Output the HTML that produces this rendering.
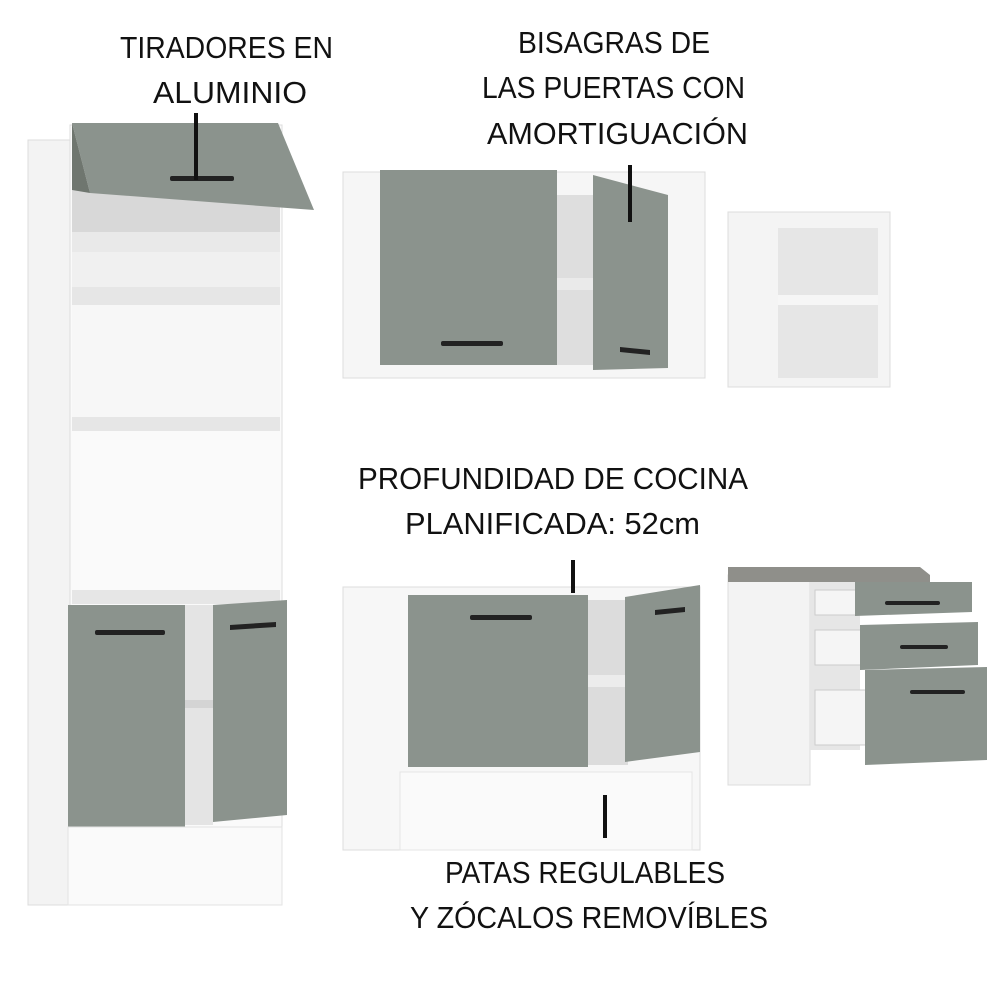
<!DOCTYPE html>
<html><head><meta charset="utf-8"><style>html,body{margin:0;padding:0;background:#fff}svg{display:block}</style></head>
<body>
<svg width="1000" height="1000" viewBox="0 0 1000 1000" xmlns="http://www.w3.org/2000/svg">
<defs>
<linearGradient id="side" x1="0" x2="1"><stop offset="0" stop-color="#f4f4f4"/><stop offset="1" stop-color="#e2e2e2"/></linearGradient>
</defs>
<!-- Tall cabinet -->
<rect x="28" y="140" width="44" height="765" fill="#f3f3f3" stroke="#ddd"/>
<rect x="70" y="125" width="212" height="780" fill="#fafafa" stroke="#ddd"/>
<rect x="72" y="190" width="208" height="45" fill="#d8d8d8"/>
<rect x="72" y="232" width="208" height="20" fill="#e9e9e9"/>
<rect x="72" y="252" width="208" height="35" fill="#f0f0f0"/>
<rect x="72" y="287" width="208" height="18" fill="#e6e6e6"/>
<rect x="72" y="305" width="208" height="112" fill="#f7f7f7"/>
<rect x="72" y="417" width="208" height="14" fill="#e6e6e6"/>
<rect x="72" y="590" width="208" height="14" fill="#e6e6e6"/>
<polygon points="72,123 278,123 314,210 90,193" fill="#8b938d"/>
<polygon points="72,123 90,193 72,190" fill="#6f766f"/>
<rect x="170" y="176" width="64" height="5" rx="2" fill="#222"/>
<rect x="68" y="605" width="117" height="222" fill="#8b938d"/>
<rect x="185" y="605" width="28" height="220" fill="#e4e4e4"/>
<rect x="185" y="700" width="28" height="8" fill="#d4d4d4"/>
<polygon points="213,605 287,600 287,815 213,822" fill="#8b938d"/>
<rect x="95" y="630" width="70" height="5" rx="2" fill="#222"/>
<polygon points="230,625 276,622 276,627 230,630" fill="#222"/>
<rect x="68" y="827" width="214" height="78" fill="#fafafa" stroke="#e3e3e3"/>
<!-- Upper middle cabinet -->
<rect x="343" y="172" width="362" height="206" fill="#f6f6f6" stroke="#ddd"/>
<rect x="557" y="195" width="40" height="170" fill="#dedede"/>
<rect x="557" y="278" width="40" height="12" fill="#eaeaea"/>
<rect x="380" y="170" width="177" height="195" fill="#8b938d"/>
<rect x="441" y="341" width="62" height="5" rx="2" fill="#222"/>
<polygon points="593,175 668,195 668,368 593,370" fill="#8b938d"/>
<polygon points="620,347 650,350 650,355 620,352" fill="#222"/>
<!-- Small open cabinet -->
<rect x="728" y="212" width="162" height="175" fill="#f4f4f4" stroke="#ddd"/>
<rect x="778" y="228" width="100" height="150" fill="#e6e6e6"/>
<rect x="778" y="295" width="100" height="10" fill="#f6f6f6"/>
<!-- Base middle cabinet -->
<rect x="343" y="587" width="357" height="263" fill="#f7f7f7" stroke="#ddd"/>
<rect x="588" y="600" width="40" height="165" fill="#dcdcdc"/>
<rect x="588" y="675" width="40" height="12" fill="#ececec"/>
<rect x="408" y="595" width="180" height="172" fill="#8b938d"/>
<rect x="470" y="615" width="62" height="5" rx="2" fill="#222"/>
<polygon points="625,597 700,585 700,752 625,762" fill="#8b938d"/>
<polygon points="655,610 685,607 685,612 655,615" fill="#222"/>
<rect x="400" y="772" width="292" height="78" fill="#fafafa" stroke="#e5e5e5"/>
<!-- Drawer cabinet -->
<rect x="728" y="575" width="82" height="210" fill="#f3f3f3" stroke="#ddd"/>
<rect x="810" y="580" width="50" height="170" fill="#e6e6e6"/>
<polygon points="728,567 920,567 930,575 930,582 728,582" fill="#8f8f8a"/>
<rect x="815" y="590" width="45" height="25" fill="#f5f5f5" stroke="#ccc"/>
<rect x="815" y="630" width="50" height="35" fill="#f5f5f5" stroke="#ccc"/>
<rect x="815" y="690" width="55" height="55" fill="#f5f5f5" stroke="#ccc"/>
<polygon points="855,582 972,582 972,612 855,616" fill="#8b938d"/>
<polygon points="860,625 978,622 978,665 860,670" fill="#8b938d"/>
<polygon points="865,670 987,667 987,760 865,765" fill="#8b938d"/>
<rect x="885" y="601" width="55" height="4" rx="2" fill="#222"/>
<rect x="900" y="645" width="48" height="4" rx="2" fill="#222"/>
<rect x="910" y="690" width="55" height="4" rx="2" fill="#222"/>
<!-- lines -->
<g stroke="#111" stroke-width="4">
<line x1="196" y1="113" x2="196" y2="180"/>
<line x1="630" y1="165" x2="630" y2="222"/>
<line x1="573" y1="560" x2="573" y2="593"/>
<line x1="605" y1="795" x2="605" y2="838"/>
</g>
<!-- text -->
<g font-family="Liberation Sans, sans-serif" font-size="31" fill="#111" lengthAdjust="spacingAndGlyphs">
<text x="120" y="58" textLength="213" lengthAdjust="spacingAndGlyphs">TIRADORES EN</text>
<text x="153" y="103" textLength="154" lengthAdjust="spacingAndGlyphs">ALUMINIO</text>
<text x="518" y="53" textLength="192" lengthAdjust="spacingAndGlyphs">BISAGRAS DE</text>
<text x="482" y="98" textLength="263" lengthAdjust="spacingAndGlyphs">LAS PUERTAS CON</text>
<text x="487" y="144" textLength="261" lengthAdjust="spacingAndGlyphs">AMORTIGUACIÓN</text>
<text x="358" y="489" textLength="390" lengthAdjust="spacingAndGlyphs">PROFUNDIDAD DE COCINA</text>
<text x="405" y="534" textLength="295" lengthAdjust="spacingAndGlyphs">PLANIFICADA: 52cm</text>
<text x="445" y="883" textLength="280" lengthAdjust="spacingAndGlyphs">PATAS REGULABLES</text>
<text x="410" y="928" textLength="358" lengthAdjust="spacingAndGlyphs">Y ZÓCALOS REMOVÍBLES</text>
</g>
</svg>
</body></html>
